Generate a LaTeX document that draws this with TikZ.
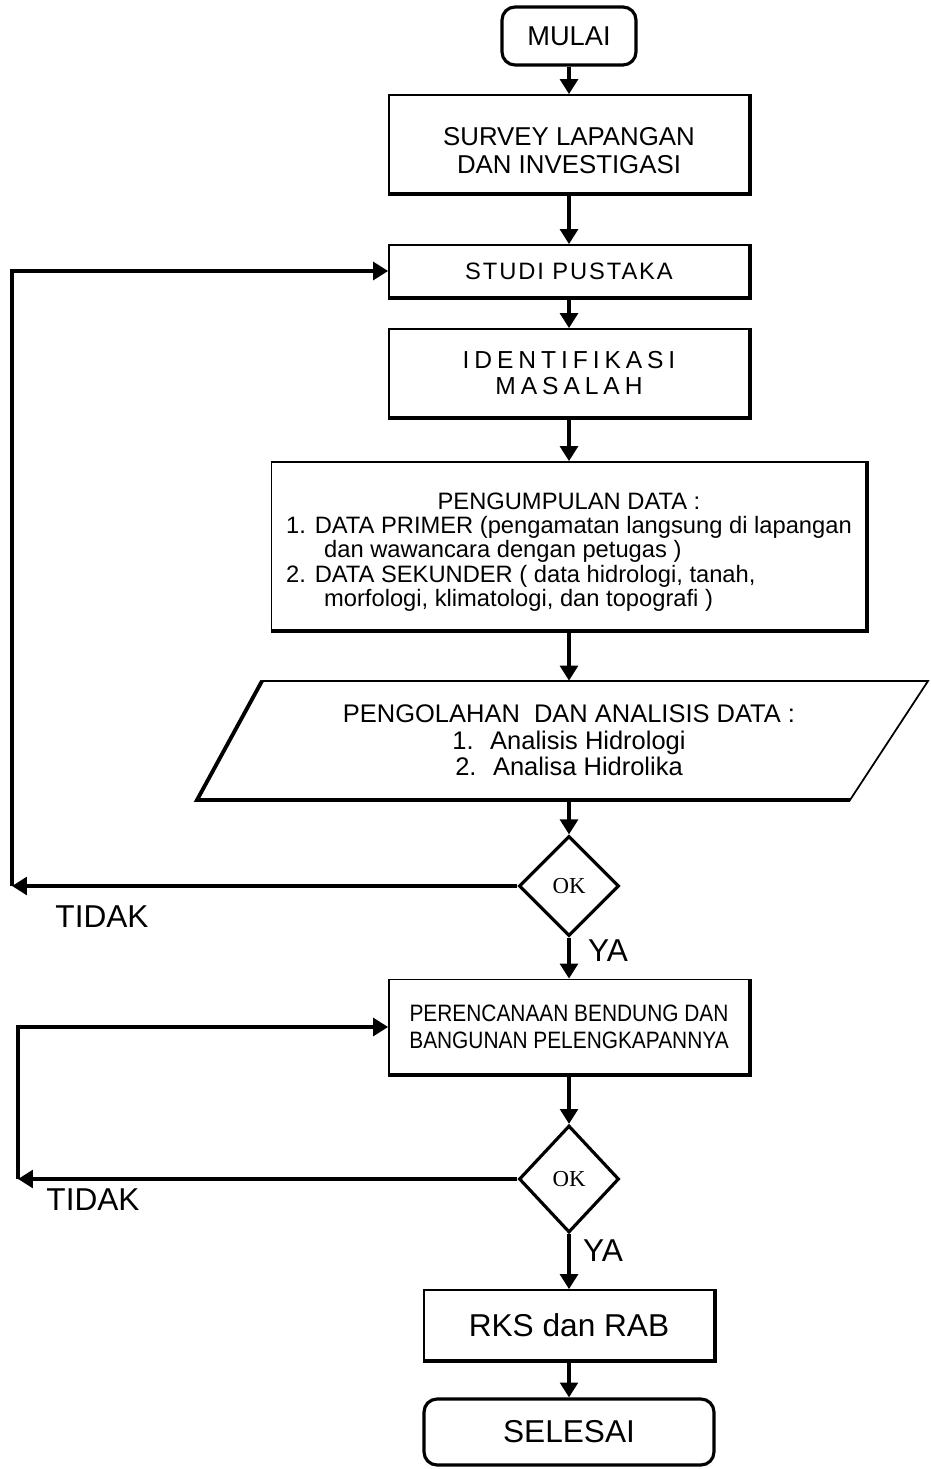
\documentclass[tikz,border=0pt]{standalone}
\usepackage{fontspec}
\setmainfont{Liberation Sans}
\newfontfamily\okfont{Liberation Serif}
\newfontfamily\narrowfont[FakeStretch=0.88]{Liberation Sans}
\newfontfamily\spacedfont[LetterSpace=8]{Liberation Sans}
\newfontfamily\widefont[LetterSpace=20]{Liberation Sans}
\usetikzlibrary{arrows.meta,shapes.geometric}

\tikzset{
  box/.style={draw, line width=1pt, minimum width=7.2cm, align=center, inner sep=0pt},
  term/.style={draw, line width=1.8pt, rounded corners=0.26cm, align=center, inner sep=0pt},
  decision/.style={draw, diamond, line width=1.8pt, minimum width=2cm, minimum height=2cm,
    inner sep=0pt, font=\okfont\fontsize{13}{15}\selectfont},
  line/.style={line width=2.2pt, -{Triangle[length=8.5pt,width=10pt]}},
  heavy/.style={line width=2.2pt},
  lbl/.style={inner sep=0pt, font=\fontsize{18}{20}\selectfont}
}

\begin{document}
\begin{tikzpicture}[x=0.02cm, y=-0.02cm]
\useasboundingbox (0,0) rectangle (930,1469);

\node[term, minimum width=2.68cm, minimum height=1.16cm, font=\fontsize{15.5}{18}\selectfont] (mulai) at (569,36) {MULAI};
\node[box, minimum height=1.96cm, font=\fontsize{14.7}{16}\selectfont] (survey) at (569,144) {\rule{0pt}{18pt}SURVEY LAPANGAN\\DAN INVESTIGASI};
\node[box, minimum height=1.04cm, font=\spacedfont\fontsize{13.5}{15}\selectfont] (studi) at (569,271) {STUDI PUSTAKA};
\node[box, minimum height=1.76cm, font=\widefont\fontsize{14}{14.5}\selectfont] (ident) at (569,373) {IDENTIFIKASI\\MASALAH};
\node[box, minimum width=11.9cm, minimum height=3.36cm, font=\fontsize{13.5}{13.6}\selectfont] (kumpul) at (569,546)
  {\begin{tabular}{@{}l@{}}
   \multicolumn{1}{c}{\rule{0pt}{17.5pt}PENGUMPULAN DATA :}\\
   1. DATA PRIMER (pengamatan langsung di lapangan\\
   \hspace{1.6em}dan wawancara dengan petugas )\\
   2. DATA SEKUNDER ( data hidrologi, tanah,\\
   \hspace{1.6em}morfologi, klimatologi, dan topografi )
   \end{tabular}};
\draw[line width=1pt] (262,681) -- (928,681) -- (850,800) -- (197,800) -- cycle;
\draw[heavy] (262,681) -- (197,800) -- (850,800);
\node[align=center, inner sep=0pt, minimum width=10cm, minimum height=2.38cm, font=\fontsize{14.5}{15}\selectfont] (olah) at (569,740.5)
  {PENGOLAHAN \ DAN ANALISIS DATA :\\1. \ Analisis Hidrologi\\2. \ Analisa Hidrolika};
\node[decision] (ok1) at (569,886) {OK};
\node[box, minimum height=1.9cm, font=\narrowfont\fontsize{13.5}{15.5}\selectfont] (renc) at (569,1027) {PERENCANAAN BENDUNG DAN\\BANGUNAN PELENGKAPANNYA};
\node[decision, minimum height=2.14cm] (ok2) at (569,1179) {OK};
\node[box, minimum width=5.8cm, minimum height=1.4cm, font=\fontsize{18}{20}\selectfont] (rks) at (569,1325) {RKS dan RAB};
\node[term, minimum width=5.8cm, minimum height=1.32cm, font=\fontsize{18}{20}\selectfont] (selesai) at (569,1432) {SELESAI};

\foreach \n in {survey,studi,ident,kumpul,renc,rks}
  \draw[heavy] (\n.south west) -- (\n.south east) -- (\n.north east);

\coordinate (back1) at (12,886);
\coordinate (back2) at (18,1179);

\draw[line] (mulai) -- (survey);
\draw[line] (survey) -- (studi);
\draw[line] (studi) -- (ident);
\draw[line] (ident) -- (kumpul);
\draw[line] (kumpul) -- (olah.north);
\draw[line] (olah.south) -- (ok1);
\draw[line] (ok1) -- (renc);
\draw[line] (renc) -- (ok2);
\draw[line] (ok2) -- (rks);
\draw[line] (rks) -- (selesai);
\draw[line] (ok1) -- (back1);
\draw[line] (back1) |- (studi);
\draw[line] (ok2) -- (back2);
\draw[line] (back2) |- (renc);

\node[lbl] (tidak1) at (102,917) {TIDAK};
\node[lbl] (ya1) at (608,951) {YA};
\node[lbl] (tidak2) at (93,1200) {TIDAK};
\node[lbl] (ya2) at (603,1251) {YA};
\end{tikzpicture}
\end{document}
